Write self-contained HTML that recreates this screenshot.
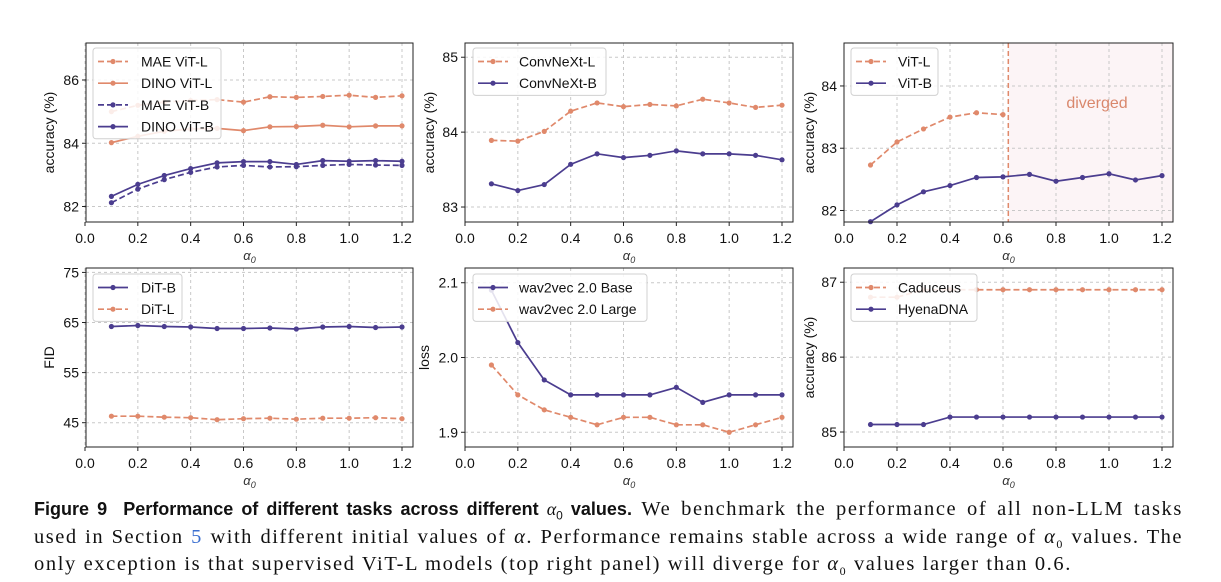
<!DOCTYPE html>
<html><head><meta charset="utf-8">
<style>
html,body{margin:0;padding:0;background:#fff;width:1221px;height:582px;overflow:hidden}
svg text{font-family:"Liberation Sans",sans-serif}
#cap{position:absolute;left:34px;top:496px;width:1149px;font-family:"Liberation Serif",serif;font-size:20.5px;line-height:27.5px;color:#111;letter-spacing:1.6px}
#cap div{text-align:justify;text-align-last:justify;white-space:nowrap;height:27.5px}
#cap sub{line-height:0}
#cap div.l2{letter-spacing:1.5px}
#cap div.last{text-align-last:left}
#cap b{font-family:"Liberation Sans",sans-serif;font-size:18px;letter-spacing:0}
</style></head><body>
<svg id="fig" width="1221" height="490" style="position:absolute;left:0;top:0"></svg>
<div id="cap">
<div><b>Figure 9&nbsp; Performance of different tasks across different <i style="font-family:'Liberation Serif',serif;font-weight:normal">α</i><sub style="font-weight:normal;font-size:12px">0</sub> values.</b> We benchmark the performance of all non-LLM tasks</div>
<div class="l2">used in Section <span style="color:#3b6fd0">5</span> with different initial values of <i>α</i>. Performance remains stable across a wide range of <i>α</i><sub style="font-size:12px">0</sub> values. The</div>
<div class="last">only exception is that supervised ViT-L models (top right panel) will diverge for <i>α</i><sub style="font-size:12px">0</sub> values larger than 0.6.</div>
</div>
<script>
const xs = [0.1,0.2,0.3,0.4,0.5,0.6,0.7,0.8,0.9,1.0,1.1,1.2];
const xTicks = [0.0,0.2,0.4,0.6,0.8,1.0,1.2];
const maeVitL = [85.0,85.2,85.3,85.35,85.38,85.3,85.47,85.45,85.48,85.52,85.45,85.5];
const dinoVitL = [84.02,84.22,84.38,84.45,84.47,84.4,84.52,84.53,84.57,84.52,84.55,84.55];
const maeVitB = [82.12,82.55,82.85,83.08,83.25,83.3,83.25,83.26,83.3,83.33,83.31,83.3];
const dinoVitB = [82.32,82.7,82.98,83.2,83.38,83.42,83.42,83.33,83.45,83.43,83.45,83.43];
const convL = [83.89,83.88,84.01,84.28,84.39,84.34,84.37,84.35,84.44,84.39,84.33,84.36];
const convB = [83.31,83.22,83.3,83.57,83.71,83.66,83.69,83.75,83.71,83.71,83.69,83.63];
const vitL = [82.73,83.1,83.31,83.5,83.57,83.54];
const vitB = [81.82,82.09,82.3,82.4,82.53,82.54,82.58,82.47,82.53,82.59,82.49,82.56];
const ditB = [64.2,64.4,64.2,64.1,63.8,63.8,63.9,63.7,64.1,64.2,64.0,64.1];
const ditL = [46.3,46.3,46.1,46.0,45.6,45.8,45.9,45.7,45.9,45.9,46.0,45.8];
const w2vBase = [2.09,2.02,1.97,1.95,1.95,1.95,1.95,1.96,1.94,1.95,1.95,1.95];
const w2vLarge = [1.99,1.95,1.93,1.92,1.91,1.92,1.92,1.91,1.91,1.90,1.91,1.92];
const caduceus = [86.8,86.8,86.9,86.9,86.9,86.9,86.9,86.9,86.9,86.9,86.9,86.9];
const hyena = [85.1,85.1,85.1,85.2,85.2,85.2,85.2,85.2,85.2,85.2,85.2,85.2];
const yTicks1 = [82,84,86], yTicks2 = [83,84,85], yTicks3 = [82,83,84];
const yTicks4 = [45,55,65,75], yTicks5 = [1.9,2.0,2.1], yTicks6 = [85,86,87];
const divergeAt = 0.62;

const OR = '#e0896b', PU = '#4b3d8f';
const NS = 'http://www.w3.org/2000/svg';
const svg = document.getElementById('fig');
function mk(tag, attrs, parent){const e=document.createElementNS(NS,tag);for(const k in attrs)e.setAttribute(k,attrs[k]);(parent||svg).appendChild(e);return e;}

function panel(cfg){
  const g = mk('g',{});
  
  
  const L=cfg.L,R=cfg.R,T=cfg.T,B=cfg.B;
  const sx = v => cfg.x0 + v*(cfg.x12-cfg.x0)/1.2;
  const sy = v => B - (v-cfg.yd[0])*(B-T)/(cfg.yd[1]-cfg.yd[0]);
  if(cfg.shade!==undefined){
    const r=mk('rect',{x:sx(cfg.shade),y:T,width:R-sx(cfg.shade),height:B-T,fill:'#fcf4f6'},g);
    
    
  }
  xTicks.forEach(t=>{
    mk('line',{x1:sx(t),x2:sx(t),y1:T,y2:B,stroke:'#c8c8c8','stroke-width':1,'stroke-dasharray':'3,3'},g);
    mk('line',{x1:sx(t),x2:sx(t),y1:B,y2:B+4,stroke:'#222'},g);
    const tx=mk('text',{x:sx(t),y:B+21,'text-anchor':'middle','font-size':14,fill:'#111'},g);
    tx.textContent=t.toFixed(1);
    
    
  });
  cfg.yt.forEach(t=>{
    mk('line',{x1:L,x2:R,y1:sy(t),y2:sy(t),stroke:'#c8c8c8','stroke-width':1,'stroke-dasharray':'3,3'},g);
    mk('line',{x1:L-4,x2:L,y1:sy(t),y2:sy(t),stroke:'#222'},g);
    const tx=mk('text',{x:L-7,y:sy(t)+5,'text-anchor':'end','font-size':14,fill:'#111'},g);
    tx.textContent=cfg.yfmt?cfg.yfmt(t):t;
    
    
  });
  if(cfg.shade!==undefined){
    mk('line',{x1:sx(cfg.shade),x2:sx(cfg.shade),y1:T,y2:B,stroke:OR,'stroke-width':1.5,'stroke-dasharray':'5,3'},g);
    const dt=mk('text',{x:1097,y:108,'text-anchor':'middle','font-size':16,fill:'#d9876c'},g);
    dt.textContent='diverged';
    
    
  }
  cfg.series.forEach(s=>{
    const sg=mk('g',{},g);
    
    
    const pts=s.v.map((v,i)=>sx(xs[i])+','+sy(v)).join(' ');
    mk('polyline',{points:pts,fill:'none',stroke:s.c,'stroke-width':1.7,'stroke-dasharray':s.d?'6,3':'none'},sg);
    s.v.forEach((v,i)=>mk('circle',{cx:sx(xs[i]),cy:sy(v),r:2.6,fill:s.c},sg));
  });
  mk('rect',{x:L,y:T,width:R-L,height:B-T,fill:'none',stroke:'#222','stroke-width':1},g);
  const lg=mk('g',{},g);
  
  
  const lb=cfg.leg;
  mk('rect',{x:lb[0],y:lb[1],width:lb[2],height:cfg.series.length*21.7+4,rx:3,fill:'rgba(255,255,255,0.85)',stroke:'#d0d0d0'},lg);
  cfg.series.forEach((s,i)=>{
    const y=lb[1]+13.5+i*21.7;
    const e=mk('g',{},lg);
    
    
    mk('line',{x1:lb[0]+5,x2:lb[0]+35,y1:y,y2:y,stroke:s.c,'stroke-width':1.7,'stroke-dasharray':s.d?'6,3':'none'},e);
    mk('circle',{cx:lb[0]+20,cy:y,r:2.6,fill:s.c},e);
    const t=mk('text',{x:lb[0]+cfg.lt,y:y+5,'font-size':14,fill:'#111'},e);
    t.textContent=s.label;
  });
  const xl=mk('text',{x:(L+R)/2,y:B+38,'text-anchor':'middle','font-size':13,'font-style':'italic','font-family':'Liberation Serif',fill:'#333'},g);
  xl.textContent='α';
  
  
  mk('tspan',{'font-size':9,dy:3},xl).textContent='0';
  const yl=mk('text',{x:0,y:0,'text-anchor':'middle','font-size':14,fill:'#111',transform:`translate(${cfg.ylx},${(T+B)/2}) rotate(-90)`},g);
  yl.textContent=cfg.ylab;
  
  
}

panel({name:'panel-vit-ssl',L:86,R:413,T:43,B:222,x0:85,x12:402,yd:[81.51,87.17],yt:yTicks1,ylab:'accuracy (%)',ylx:54,leg:[93,48,128],lt:48,
  series:[{id:'mae-vit-l',label:'MAE ViT-L',v:maeVitL,c:OR,d:1},{id:'dino-vit-l',label:'DINO ViT-L',v:dinoVitL,c:OR},
          {id:'mae-vit-b',label:'MAE ViT-B',v:maeVitB,c:PU,d:1},{id:'dino-vit-b',label:'DINO ViT-B',v:dinoVitB,c:PU}]});
panel({name:'panel-convnext',L:465,R:793,T:43,B:222,x0:465,x12:782,yd:[82.8,85.19],yt:yTicks2,ylab:'accuracy (%)',ylx:434,leg:[473,48,133],lt:46,
  series:[{id:'convnext-l',label:'ConvNeXt-L',v:convL,c:OR,d:1},{id:'convnext-b',label:'ConvNeXt-B',v:convB,c:PU}]});
panel({name:'panel-vit-supervised',L:844,R:1173,T:43,B:222,x0:844,x12:1162,yd:[81.815,84.69],yt:yTicks3,ylab:'accuracy (%)',ylx:814,leg:[851,48,87],lt:47,shade:divergeAt,
  series:[{id:'vit-l',label:'ViT-L',v:vitL,c:OR,d:1},{id:'vit-b',label:'ViT-B',v:vitB,c:PU}]});
panel({name:'panel-dit',L:86,R:413,T:268,B:447,x0:85,x12:402,yd:[40.15,75.88],yt:yTicks4,ylab:'FID',ylx:54,leg:[93,274,89],lt:48,
  series:[{id:'dit-b',label:'DiT-B',v:ditB,c:PU},{id:'dit-l',label:'DiT-L',v:ditL,c:OR,d:1}]});
panel({name:'panel-wav2vec',L:465,R:793,T:268,B:447,x0:465,x12:782,yd:[1.8803,2.1197],yt:yTicks5,yfmt:t=>t.toFixed(1),ylab:'loss',ylx:429,leg:[473,274,174],lt:46,
  series:[{id:'wav2vec-base',label:'wav2vec 2.0 Base',v:w2vBase,c:PU},{id:'wav2vec-large',label:'wav2vec 2.0 Large',v:w2vLarge,c:OR,d:1}]});
panel({name:'panel-dna',L:844,R:1173,T:268,B:447,x0:844,x12:1162,yd:[84.8,87.19],yt:yTicks6,ylab:'accuracy (%)',ylx:814,leg:[851,274,126],lt:47,
  series:[{id:'caduceus',label:'Caduceus',v:caduceus,c:OR,d:1},{id:'hyenadna',label:'HyenaDNA',v:hyena,c:PU}]});
</script>
</body></html>
